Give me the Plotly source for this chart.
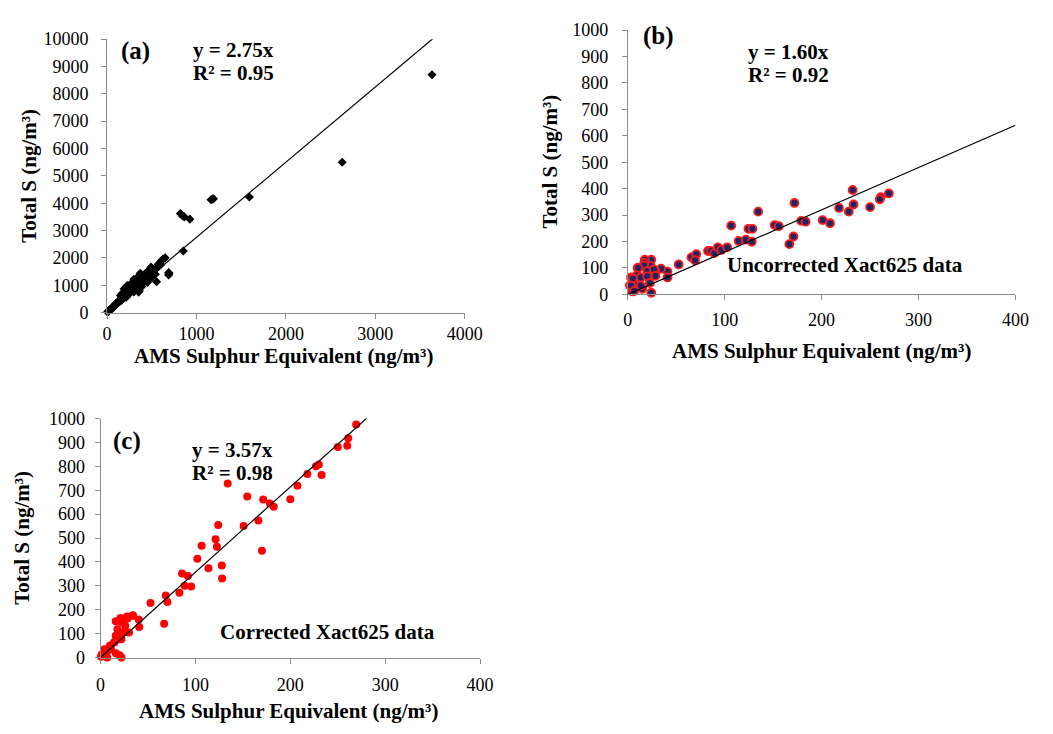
import plotly.graph_objects as go

W, H = 1053, 734
SERIF = "Liberation Serif"

# ---------------- (a) Total S vs AMS sulphur equivalent, full range ----------------
a_ams = [3634, 2630, 1592, 1163, 1191, 1180, 820, 846, 864, 926, 853, 627, 590, 572,
         689, 689, 492, 445, 543, 540, 500, 554, 452, 372, 361, 481, 693, 354, 226, 190,
         300, 330, 345, 310, 280, 260, 240, 220, 200, 185, 170, 160, 150, 140, 130, 120,
         110, 100, 90, 80, 70, 60, 50, 40, 30, 20, 12, 6, 250, 270, 290, 320, 215, 175,
         155, 135, 115, 95, 75, 55, 35, 18, 400, 420, 380, 265, 235, 205,
         25, 45, 65, 85, 105, 125, 145, 165, 185, 205, 225, 245, 265, 285, 305, 325,
         345, 365, 385, 405, 60, 80, 100, 120, 140, 160, 180, 200, 220, 240, 260, 280,
         300, 320, 340, 210, 230, 150, 170, 250, 275, 300, 330, 420, 460, 470, 520, 600,
         610, 580, 650, 300, 350, 390]
a_total = [8700, 5500, 4224, 4128, 4164, 4150, 3619, 3534, 3500, 3416, 2253, 1957, 1815, 1755,
           1459, 1377, 1662, 1484, 1577, 1400, 1281, 1128, 1103, 1434, 807, 1577, 1434, 747, 985, 865,
           1100, 1080, 1150, 980, 900, 820, 760, 700, 640, 560, 520, 480, 450, 420, 390, 350,
           330, 300, 270, 240, 210, 180, 150, 120, 90, 60, 35, 15, 700, 780, 850, 900, 560, 540,
           470, 440, 360, 280, 230, 170, 110, 50, 1200, 1150, 1050, 850, 640, 600,
           80, 130, 190, 260, 300, 380, 420, 500, 540, 620, 650, 730, 760, 830, 870, 950,
           1000, 1080, 1120, 1180, 150, 220, 330, 340, 460, 440, 600, 560, 700, 680, 840, 800,
           960, 880, 1100, 900, 960, 620, 700, 1000, 1080, 1220, 1250, 1300, 1250, 1400, 1500, 1750,
           1900, 1700, 2000, 750, 1000, 950]
a_slope, a_r2 = 2.75, 0.95

# ---------------- (b) uncorrected Xact625 ----------------
b_ams = [172, 134.6, 106.7, 124.5, 128.6, 151.5, 155.9, 179, 183.5, 201, 208.7, 114.4, 121.8,
         127.9, 171, 166.7, 82.8, 85.8, 89.2, 93, 96.6, 102.6, 65.7, 70.7, 69.3, 52.5, 41, 41,
         34.3, 28.6, 24.2, 17.5, 23.5, 16.2, 10.1, 17, 24, 21.8, 15, 9, 3.3, 2, 5,
         269.4, 261, 260, 250, 232, 228, 233, 218,
         16.8, 10.7, 20.2, 26.9, 9.4, 5.4, 13.4, 20, 28.6, 3.3, 13.4, 22.8, 24.2, 6.7]
b_total = [346, 313, 260, 248, 248, 262, 258, 278, 275, 281, 269, 202, 207,
           199, 219, 190, 164, 164, 156, 178, 168, 178, 140, 152, 129, 113, 86, 64,
           97, 88, 131, 131, 107, 107, 100, 119, 72, 64, 21, 37, 64, 34, 11,
           382, 368, 360, 330, 395, 313, 340, 327,
           109, 100, 88, 94, 72, 60, 64, 68, 70, 33, 33, 43, 6, 13]
b_slope, b_r2 = 1.60, 0.92

# ---------------- (c) corrected Xact625 ----------------
c_ams = [134, 154.6, 171.4, 178.4, 182.5, 166.3, 150.8, 170.1, 124, 121.2, 122.6, 106.5, 102,
         113.7, 127.8, 128.1, 85.9, 92, 88.6, 95.5, 83.1, 68.7, 70.4, 52.6, 67, 34, 40.2,
         40.8, 28.5, 22, 17.8, 26, 23.7, 30, 16, 19.7, 14.6, 9.9, 4, 7.5, 1, 16, 22, 7,
         269.4, 261, 260, 250, 230, 227, 233, 218, 207.5, 200,
         0.5, 5.8, 11, 16, 21, 28, 34, 17.8, 22, 14.4, 20]
c_total = [728, 674, 661, 645, 631, 573, 550, 447, 555, 495, 464, 468, 413,
           374, 385, 331, 352, 341, 300, 297, 271, 260, 233, 228, 141, 177, 159,
           128, 163, 148, 118, 133, 105, 105, 91, 77, 64, 50, 35, 28, 12, 18, 0, 0,
           975, 918, 886, 881, 808, 800, 764, 768, 719, 662,
           3, 23, 37, 152, 166, 172, 175, 98, 77, 64, 10]
c_slope, c_r2 = 3.57, 0.98

AXIS_X_TITLE = "AMS Sulphur Equivalent (ng/m³)"
AXIS_Y_TITLE = "Total S (ng/m³)"


def px_x(p):
    return p / W


def px_y(p):
    return 1 - p / H


fig = go.Figure()

# panel (a)
fig.add_trace(go.Scatter(x=a_ams, y=a_total, mode="markers", xaxis="x", yaxis="y",
                         marker=dict(symbol="diamond", size=7, color="black"),
                         cliponaxis=False, showlegend=False))
fig.add_trace(go.Scatter(x=[0, 4000], y=[0, a_slope * 4000], mode="lines", xaxis="x", yaxis="y",
                         line=dict(color="black", width=1.2), showlegend=False))

# panel (b)
fig.add_trace(go.Scatter(x=b_ams, y=b_total, mode="markers", xaxis="x2", yaxis="y2",
                         marker=dict(symbol="circle", size=8, color="#1a2766",
                                     line=dict(color="#ff1a1a", width=1.8)),
                         cliponaxis=False, showlegend=False))
fig.add_trace(go.Scatter(x=[0, 400], y=[0, b_slope * 400], mode="lines", xaxis="x2", yaxis="y2",
                         line=dict(color="black", width=1.2), showlegend=False))

# panel (c)
fig.add_trace(go.Scatter(x=c_ams, y=c_total, mode="markers", xaxis="x3", yaxis="y3",
                         marker=dict(symbol="circle", size=8, color="#ff0000"),
                         cliponaxis=False, showlegend=False))
fig.add_trace(go.Scatter(x=[0, 400], y=[0, c_slope * 400], mode="lines", xaxis="x3", yaxis="y3",
                         line=dict(color="black", width=1.2), showlegend=False))

axis_common = dict(showline=True, linecolor="#8c8c8c", linewidth=1, showgrid=False,
                   zeroline=False, ticks="outside", ticklen=5, tickcolor="#8c8c8c",
                   tickformat="d",
                   tickfont=dict(family=SERIF, size=18, color="black"))

fig.update_layout(
    width=W, height=H, margin=dict(l=0, r=0, t=0, b=0),
    paper_bgcolor="white", plot_bgcolor="white",
    font=dict(family=SERIF, color="black"),
    xaxis=dict(axis_common, domain=[px_x(104.3), px_x(470)], range=[0, 4000], dtick=1000,
               anchor="y", ticklabelstandoff=0),
    yaxis=dict(axis_common, domain=[px_y(311), px_y(30)], range=[0, 10000], dtick=1000,
               anchor="x", ticklabelstandoff=9),
    xaxis2=dict(axis_common, domain=[px_x(636.7), px_x(1033)], range=[0, 400], dtick=100,
                anchor="y2", ticklabelstandoff=4),
    yaxis2=dict(axis_common, domain=[px_y(292.3), px_y(20.7)], range=[0, 1000], dtick=100,
                anchor="x2", ticklabelstandoff=10),
    xaxis3=dict(axis_common, domain=[px_x(97.7), px_x(485.7)], range=[0, 400], dtick=100,
                anchor="y3", ticklabelstandoff=6),
    yaxis3=dict(axis_common, domain=[px_y(665.7), px_y(420)], range=[0, 1000], dtick=100,
                anchor="x3", ticklabelstandoff=6),
)


def note(text, x, y, size, xanchor="left", angle=0):
    fig.add_annotation(text=f"<b>{text}</b>", xref="paper", yref="paper",
                       x=px_x(x), y=px_y(y), xanchor=xanchor, yanchor="middle",
                       textangle=angle, showarrow=False, borderpad=0,
                       font=dict(family=SERIF, size=size, color="black"))


# panel labels and fit equations
note("(a)", 118, 42, 25)
note(f"y = {a_slope:.2f}x", 191, 41.5, 21)
note(f"R² = {a_r2:.2f}", 191, 65, 21)

note("(b)", 651, 26.7, 25)
note(f"y = {b_slope:.2f}x", 759, 43, 21)
note(f"R² = {b_r2:.2f}", 759, 66.7, 21)
note("Uncorrected Xact625 data", 737, 262, 21)

note("(c)", 109, 443, 25)
note(f"y = {c_slope:.2f}x", 190, 452, 21)
note(f"R² = {c_r2:.2f}", 190, 475.5, 21)
note("Corrected Xact625 data", 219, 639, 21)

# axis titles
note(AXIS_X_TITLE, 285, 356, 21, xanchor="center")
note(AXIS_X_TITLE, 835, 351, 21, xanchor="center")
note(AXIS_X_TITLE, 290, 721, 21, xanchor="center")
note(AXIS_Y_TITLE, 25, 170, 21, xanchor="center", angle=-90)
note(AXIS_Y_TITLE, 557, 156, 21, xanchor="center", angle=-90)
note(AXIS_Y_TITLE, 18, 543, 21, xanchor="center", angle=-90)

fig.write_html("out.html")
